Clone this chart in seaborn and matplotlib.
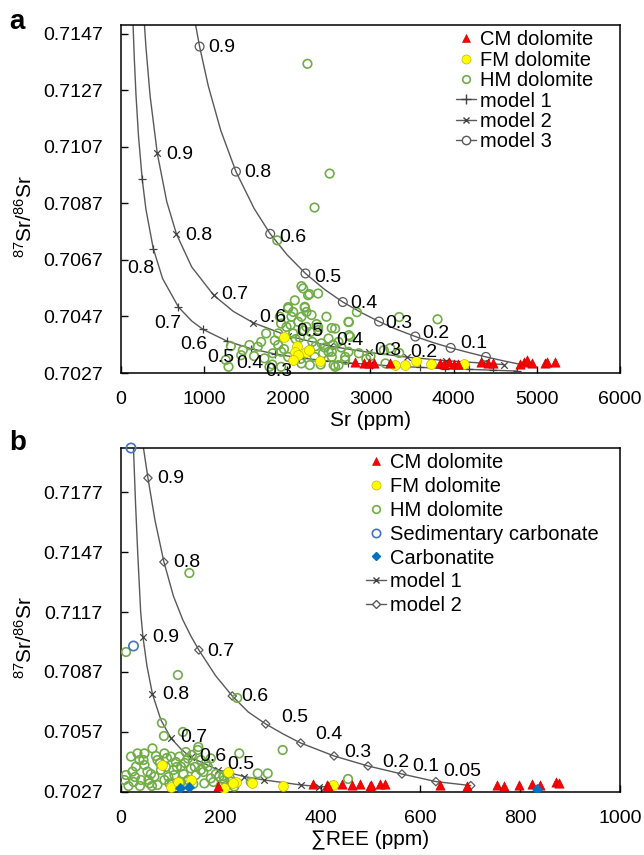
import matplotlib
matplotlib.use("Agg")
import matplotlib.pyplot as plt
import seaborn as sns
from matplotlib.lines import Line2D

# ---------------- panel a : 87Sr/86Sr vs Sr ----------------
a_cm_sr = [2810, 2920, 2980, 3040, 3240, 3840, 3880, 3950, 4010, 4050,
           4330, 4410, 4470, 4800, 4840, 4880, 4940, 5100, 5120, 5220]
a_cm_ratio = [0.70310, 0.70304, 0.70307, 0.70304, 0.70306, 0.70306, 0.70303, 0.70310, 0.70303, 0.70302,
              0.70310, 0.70306, 0.70305, 0.70302, 0.70308, 0.70315, 0.70306, 0.70305, 0.70310, 0.70310]

a_fm_sr = [1960, 2120, 2090, 2225, 2255, 2130, 2065, 2390, 3300, 3420, 3545, 3725, 4125]
a_fm_ratio = [0.70397, 0.70367, 0.70345, 0.70346, 0.70352, 0.70334, 0.70316, 0.70311,
              0.70297, 0.70297, 0.70312, 0.70302, 0.70301]

a_hm_sr = [2242, 2509, 2327, 1879, 2190, 2250, 2210, 2170, 2267, 2291, 2352, 2836, 3345, 3806,
           2740, 2533, 2740, 3236, 3345, 2557, 3160, 3180, 2370, 2410, 2535, 2575, 2695, 2270,
           2170, 2210, 2230, 2010, 2050, 1910, 2130, 1990, 1890, 2070, 2230, 2370, 2470, 2575,
           2735, 2495, 2615, 2735, 2535, 2615, 2695, 2495, 2330, 2270, 2170, 2010, 1890, 1925,
           1825, 1725, 1645, 1685, 1545, 1465, 1445, 1745, 1785, 1925, 1925, 2090, 2370, 2755,
           1321, 1260, 1293, 2070, 2010, 2100, 2300, 2400, 1600, 2200, 2450, 1820, 2860, 2950, 3000,
           1960, 2040, 2150, 2280, 2340, 2430, 2160, 1850, 2550, 2650]
a_hm_ratio = [0.71363, 0.70975, 0.70855, 0.70739, 0.70569, 0.70545, 0.70501, 0.70469, 0.70549, 0.70475,
              0.70443, 0.70485, 0.70468, 0.70460, 0.70450, 0.70429, 0.70404, 0.70358, 0.70341, 0.70298,
              0.70351, 0.70304, 0.70433, 0.70375, 0.70345, 0.70292, 0.70327, 0.70351, 0.70577, 0.70504,
              0.70486, 0.70498, 0.70469, 0.70469, 0.70451, 0.70433, 0.70410, 0.70410, 0.70433, 0.70422,
              0.70469, 0.70427, 0.70451, 0.70392, 0.70380, 0.70345, 0.70327, 0.70298, 0.70316, 0.70345,
              0.70327, 0.70298, 0.70304, 0.70327, 0.70369, 0.70345, 0.70340, 0.70322, 0.70363, 0.70380,
              0.70369, 0.70351, 0.70333, 0.70410, 0.70292, 0.70292, 0.70445, 0.70527, 0.70551, 0.70398,
              0.70365, 0.70316, 0.70292, 0.70486, 0.70503, 0.70390, 0.70380, 0.70300, 0.70330, 0.70420,
              0.70360, 0.70300, 0.70340, 0.70320, 0.70330,
              0.70355, 0.70440, 0.70395, 0.70415, 0.70365, 0.70340, 0.70320, 0.70385, 0.70370, 0.70360]

# mixing model curves
a_m1_sr = [143, 160, 180, 210, 255, 300, 388, 500, 691, 850, 982, 1273, 1564, 1855, 2146,
           2437, 2728, 3019, 3310, 3601, 3892, 4183, 4474, 4765]
a_m1_ratio = [0.71517, 0.71381, 0.71254, 0.71109, 0.70955, 0.70848, 0.70710, 0.70604, 0.70503,
              0.70454, 0.70425, 0.70383, 0.70356, 0.70337, 0.70324, 0.70314, 0.70306, 0.70300,
              0.70294, 0.70290, 0.70286, 0.70283, 0.70280, 0.70277]
a_m1_mark = [255, 388, 691, 982, 1273, 1564, 1855, 2146, 2437, 2728, 3019, 3310, 3601, 3892, 4183, 4474, 4765]

a_m2_sr = [270, 300, 350, 436, 550, 667, 850, 1115, 1350, 1588, 2012, 2509, 2982, 3442, 3903, 4350, 4600]
a_m2_ratio = [0.71554, 0.71421, 0.71249, 0.71047, 0.70876, 0.70761, 0.70645, 0.70545, 0.70488,
              0.70448, 0.70401, 0.70365, 0.70343, 0.70326, 0.70314, 0.70305, 0.70300]
a_m2_mark = [436, 667, 1115, 1588, 2012, 2509, 2982, 3442, 3903, 4350, 4600]

a_m3_sr = [880, 945, 1050, 1200, 1382, 1600, 1794, 2000, 2218, 2450, 2667, 2900, 3103, 3300,
           3539, 3750, 3964, 4200, 4388, 4600, 4780]
a_m3_ratio = [0.71527, 0.71424, 0.71284, 0.71127, 0.70982, 0.70852, 0.70762, 0.70687, 0.70622,
              0.70565, 0.70521, 0.70482, 0.70452, 0.70426, 0.70399, 0.70378, 0.70359, 0.70341,
              0.70327, 0.70313, 0.70302]
a_m3_mark = [945, 1382, 1794, 2218, 2667, 3103, 3539, 3964, 4388]

a_labels = ["0.9", "0.8", "0.6", "0.5", "0.4", "0.3", "0.2", "0.1",
            "0.9", "0.8", "0.7", "0.6", "0.5", "0.4", "0.3", "0.2",
            "0.8", "0.7", "0.6", "0.5", "0.4", "0.3"]
a_label_x = [1055, 1479, 1903, 2327, 2752, 3176, 3624, 4085,
             545, 776, 1200, 1661, 2109, 2594, 3042, 3479,
             70, 400, 715, 1042, 1382, 1733]
a_label_y = [0.71420, 0.70979, 0.70750, 0.70609, 0.70517, 0.70446, 0.70411, 0.70376,
             0.71042, 0.70757, 0.70549, 0.70467, 0.70418, 0.70386, 0.70348, 0.70341,
             0.70640, 0.70446, 0.70372, 0.70326, 0.70302, 0.70274]

# ---------------- panel b : 87Sr/86Sr vs sum REE ----------------
b_cm_ree = [195, 385, 412, 415, 442, 462, 478, 499, 502, 519, 529, 639, 693, 753, 768, 798,
            823, 840, 872, 878]
b_cm_ratio = [0.70300, 0.70310, 0.70305, 0.70300, 0.70310, 0.70305, 0.70310, 0.70300, 0.70305,
              0.70310, 0.70312, 0.70305, 0.70298, 0.70305, 0.70302, 0.70303, 0.70310, 0.70307,
              0.70318, 0.70315]

b_fm_ree = [83, 214, 230, 263, 324, 207, 100, 425, 115, 140, 225]
b_fm_ratio = [0.70405, 0.70372, 0.70322, 0.70313, 0.70300, 0.70288, 0.70293, 0.70305, 0.70320,
              0.70330, 0.70315]

b_hm_ree = [10, 114, 82, 86, 124, 233, 324, 137, 455, 155,
            10, 7, 20, 33, 47, 63, 30, 47, 53, 67, 40, 23, 87, 100, 117, 134, 120, 140, 160, 174,
            160, 180, 107, 87, 134, 150, 180, 167, 97, 73, 57, 117, 214, 207, 220, 200, 227, 197,
            274, 294, 237, 37, 73, 154, 80,
            15, 25, 60, 90, 110, 125, 145, 190, 210, 260, 130, 70, 105,
            28, 45, 55, 78, 95, 112, 128, 148, 165, 185, 205, 218, 62, 38, 142, 170, 92, 120]
b_hm_ratio = [0.70970, 0.70855, 0.70615, 0.70550, 0.70570, 0.70740, 0.70480, 0.71365, 0.70335, 0.70495,
              0.70355, 0.70330, 0.70447, 0.70463, 0.70463, 0.70488, 0.70397, 0.70405, 0.70372, 0.70347,
              0.70330, 0.70372, 0.70463, 0.70447, 0.70447, 0.70438, 0.70397, 0.70388, 0.70380, 0.70397,
              0.70430, 0.70438, 0.70355, 0.70330, 0.70330, 0.70355, 0.70338, 0.70313, 0.70313, 0.70305,
              0.70313, 0.70305, 0.70363, 0.70330, 0.70322, 0.70297, 0.70297, 0.70347, 0.70363, 0.70363,
              0.70463, 0.70430, 0.70430, 0.70480, 0.70380,
              0.70300, 0.70320, 0.70360, 0.70395, 0.70420, 0.70360, 0.70310, 0.70360, 0.70300, 0.70320,
              0.70470, 0.70450, 0.70380,
              0.70345, 0.70430, 0.70330, 0.70415, 0.70345, 0.70395, 0.70415, 0.70395, 0.70370, 0.70320,
              0.70350, 0.70340, 0.70300, 0.70300, 0.70455, 0.70415, 0.70440, 0.70320]

b_sed_ree = [20, 25]
b_sed_ratio = [0.71990, 0.71000]

b_cbt_ree = [119, 137, 834]
b_cbt_ratio = [0.70288, 0.70293, 0.70283]

b_m1_ree = [25, 29, 33.4, 39.4, 44, 52, 63, 80, 100, 120, 140, 195, 247, 287, 361, 397, 420]
b_m1_ratio = [0.71990, 0.71720, 0.71470, 0.71170, 0.71045, 0.70900, 0.70760, 0.70630, 0.70540,
              0.70485, 0.70443, 0.70380, 0.70347, 0.70330, 0.70305, 0.70297, 0.70295]
b_m1_mark = [44, 63, 100, 140, 195, 247, 287, 361, 397]

b_m2_ree = [45, 54, 68, 86, 105, 124, 140, 156, 190, 223, 255, 290, 325, 360, 427, 495, 563, 631, 701]
b_m2_ratio = [0.71990, 0.71840, 0.71630, 0.71420, 0.71250, 0.71130, 0.71050, 0.70980, 0.70850,
              0.70750, 0.70670, 0.70610, 0.70560, 0.70515, 0.70450, 0.70400, 0.70360, 0.70322, 0.70302]
b_m2_mark = [54, 86, 156, 223, 290, 360, 427, 495, 563, 631, 701]

b_labels = ["0.9", "0.8", "0.7", "0.6", "0.5", "0.4", "0.3", "0.2", "0.1", "0.05",
            "0.9", "0.8", "0.7", "0.6", "0.5"]
b_label_x = [72, 104, 173, 240, 322, 389, 447, 523, 583, 645,
             62, 82, 118, 156, 212]
b_label_y = [0.71840, 0.71420, 0.70975, 0.70745, 0.70640, 0.70555, 0.70465, 0.70415, 0.70395, 0.70370,
             0.71045, 0.70755, 0.70540, 0.70445, 0.70405]

GREEN = "#70AD47"
RED = "#FF0000"
YELLOW = "#FFFF00"
BLUE = "#4472C4"
CBT = "#0070C0"
LINE = "#595959"

sns.set_style("ticks")
plt.rcParams["font.family"] = ["Liberation Sans", "DejaVu Sans"]
plt.rcParams["mathtext.fontset"] = "custom"
plt.rcParams["mathtext.rm"] = "Liberation Sans"
plt.rcParams["mathtext.it"] = "Liberation Sans:italic"
plt.rcParams["mathtext.bf"] = "Liberation Sans:bold"
for k in ["text.color", "axes.labelcolor", "xtick.color", "ytick.color", "axes.edgecolor"]:
    plt.rcParams[k] = "black"

fig = plt.figure(figsize=(6.44, 8.55), dpi=100)
ax1 = fig.add_axes([0.1879, 0.5637, 0.7748, 0.4070])
ax2 = fig.add_axes([0.1879, 0.0737, 0.7748, 0.4023])


def marks_on_curve(xs, ys, marks):
    # marker y values taken from the curve table at the same x
    lut = dict(zip(xs, ys))
    return [lut[m] for m in marks]


def model(ax, xs, ys, marks, marker, ms, mfc):
    sns.lineplot(x=xs, y=ys, ax=ax, color=LINE, lw=1.0, sort=False, estimator=None, zorder=2)
    my = marks_on_curve(xs, ys, marks)
    if mfc == "none":
        sns.scatterplot(x=marks, y=my, ax=ax, marker=marker, s=ms, facecolor="none",
                        edgecolor=LINE, linewidth=0.9, zorder=3, legend=False)
    else:
        sns.scatterplot(x=marks, y=my, ax=ax, marker=marker, s=ms, color="#404040",
                        linewidth=0.9, zorder=3, legend=False)


def style_axis(ax):
    for sp in ax.spines.values():
        sp.set_visible(True)
        sp.set_linewidth(1.1)
        sp.set_color("black")
    ax.tick_params(direction="in", length=5, width=1.0, pad=13, labelsize=14,
                   top=False, right=False, colors="black")
    ax.set_ylabel(r"$^{87}$Sr/$^{86}$Sr", fontsize=15)


# ----- panel a -----
model(ax1, a_m1_sr, a_m1_ratio, a_m1_mark, "+", 40, "k")
model(ax1, a_m2_sr, a_m2_ratio, a_m2_mark, "x", 22, "k")
model(ax1, a_m3_sr, a_m3_ratio, a_m3_mark, "o", 40, "none")
sns.scatterplot(x=a_hm_sr, y=a_hm_ratio, ax=ax1, marker="o", s=38, facecolor="none",
                edgecolor=GREEN, linewidth=1.2, zorder=4, legend=False)
sns.scatterplot(x=a_fm_sr, y=a_fm_ratio, ax=ax1, marker="o", s=50, color=YELLOW,
                edgecolor="#C8B400", linewidth=0.5, zorder=5, legend=False)
sns.scatterplot(x=a_cm_sr, y=a_cm_ratio, ax=ax1, marker="^", s=45, color=RED,
                edgecolor="#C00000", linewidth=0.4, zorder=6, legend=False)
for t, x, y in zip(a_labels, a_label_x, a_label_y):
    ax1.text(x, y, t, fontsize=14, ha="left", va="center", zorder=7)

ax1.set_xlim(0, 6000)
ax1.set_ylim(0.7027, 0.7150)
ax1.set_xticks([0, 1000, 2000, 3000, 4000, 5000, 6000])
ax1.set_yticks([0.7027, 0.7047, 0.7067, 0.7087, 0.7107, 0.7127, 0.7147])
ax1.set_yticklabels([f"{v:.4f}" for v in ax1.get_yticks()])
ax1.set_xlabel("Sr (ppm)", fontsize=15, labelpad=2)
style_axis(ax1)
ax1.yaxis.set_label_coords(-0.17, 0.45)

h_a = [
    Line2D([], [], ls="none", marker="^", ms=6, mfc=RED, mec="#C00000", mew=0.4),
    Line2D([], [], ls="none", marker="o", ms=6.5, mfc=YELLOW, mec="#C8B400", mew=0.5),
    Line2D([], [], ls="none", marker="o", ms=5.5, mfc="none", mec=GREEN, mew=1.2),
    Line2D([], [], color=LINE, lw=1.0, marker="+", ms=7, mec="#404040"),
    Line2D([], [], color=LINE, lw=1.0, marker="x", ms=5, mec="#404040"),
    Line2D([], [], color=LINE, lw=1.0, marker="o", ms=6, mfc="white", mec=LINE),
]
ax1.legend(h_a, ["CM dolomite", "FM dolomite", "HM dolomite", "model 1", "model 2", "model 3"],
           loc="upper left", bbox_to_anchor=(0.672, 0.985), frameon=False, fontsize=14.5,
           handlelength=1.0, handletextpad=0.2, labelspacing=0.07, borderpad=0, borderaxespad=0)

# ----- panel b -----
model(ax2, b_m1_ree, b_m1_ratio, b_m1_mark, "x", 22, "k")
model(ax2, b_m2_ree, b_m2_ratio, b_m2_mark, "D", 18, "none")
sns.scatterplot(x=b_hm_ree, y=b_hm_ratio, ax=ax2, marker="o", s=38, facecolor="none",
                edgecolor=GREEN, linewidth=1.2, zorder=4, legend=False)
sns.scatterplot(x=b_fm_ree, y=b_fm_ratio, ax=ax2, marker="o", s=50, color=YELLOW,
                edgecolor="#C8B400", linewidth=0.5, zorder=5, legend=False)
sns.scatterplot(x=b_cm_ree, y=b_cm_ratio, ax=ax2, marker="^", s=45, color=RED,
                edgecolor="#C00000", linewidth=0.4, zorder=6, legend=False)
sns.scatterplot(x=b_sed_ree, y=b_sed_ratio, ax=ax2, marker="o", s=45, facecolor="none",
                edgecolor=BLUE, linewidth=1.2, zorder=6, legend=False, clip_on=False)
sns.scatterplot(x=b_cbt_ree, y=b_cbt_ratio, ax=ax2, marker="D", s=30, color=CBT,
                edgecolor=CBT, linewidth=0.3, zorder=6, legend=False)
for t, x, y in zip(b_labels, b_label_x, b_label_y):
    ax2.text(x, y, t, fontsize=14, ha="left", va="center", zorder=7)

ax2.set_xlim(0, 1000)
ax2.set_ylim(0.7027, 0.7199)
ax2.set_xticks([0, 200, 400, 600, 800, 1000])
ax2.set_yticks([0.7027, 0.7057, 0.7087, 0.7117, 0.7147, 0.7177])
ax2.set_yticklabels([f"{v:.4f}" for v in ax2.get_yticks()])
ax2.set_xlabel("\u2211REE (ppm)", fontsize=15, labelpad=2)
style_axis(ax2)
ax2.yaxis.set_label_coords(-0.17, 0.45)

h_b = [
    Line2D([], [], ls="none", marker="^", ms=6, mfc=RED, mec="#C00000", mew=0.4),
    Line2D([], [], ls="none", marker="o", ms=6.5, mfc=YELLOW, mec="#C8B400", mew=0.5),
    Line2D([], [], ls="none", marker="o", ms=5.5, mfc="none", mec=GREEN, mew=1.2),
    Line2D([], [], ls="none", marker="o", ms=6, mfc="none", mec=BLUE, mew=1.2),
    Line2D([], [], ls="none", marker="D", ms=4.5, mfc=CBT, mec=CBT),
    Line2D([], [], color=LINE, lw=1.0, marker="x", ms=5, mec="#404040"),
    Line2D([], [], color=LINE, lw=1.0, marker="D", ms=4, mfc="white", mec=LINE),
]
ax2.legend(h_b, ["CM dolomite", "FM dolomite", "HM dolomite", "Sedimentary carbonate",
                 "Carbonatite", "model 1", "model 2"],
           loc="upper left", bbox_to_anchor=(0.49, 0.985), frameon=False, fontsize=14.5,
           handlelength=1.0, handletextpad=0.2, labelspacing=0.24, borderpad=0, borderaxespad=0)

fig.text(0.015, 0.966, "a", fontsize=20, fontweight="bold", ha="left", va="baseline")
fig.text(0.015, 0.474, "b", fontsize=20, fontweight="bold", ha="left", va="baseline")

fig.savefig("out.png", dpi=100)
